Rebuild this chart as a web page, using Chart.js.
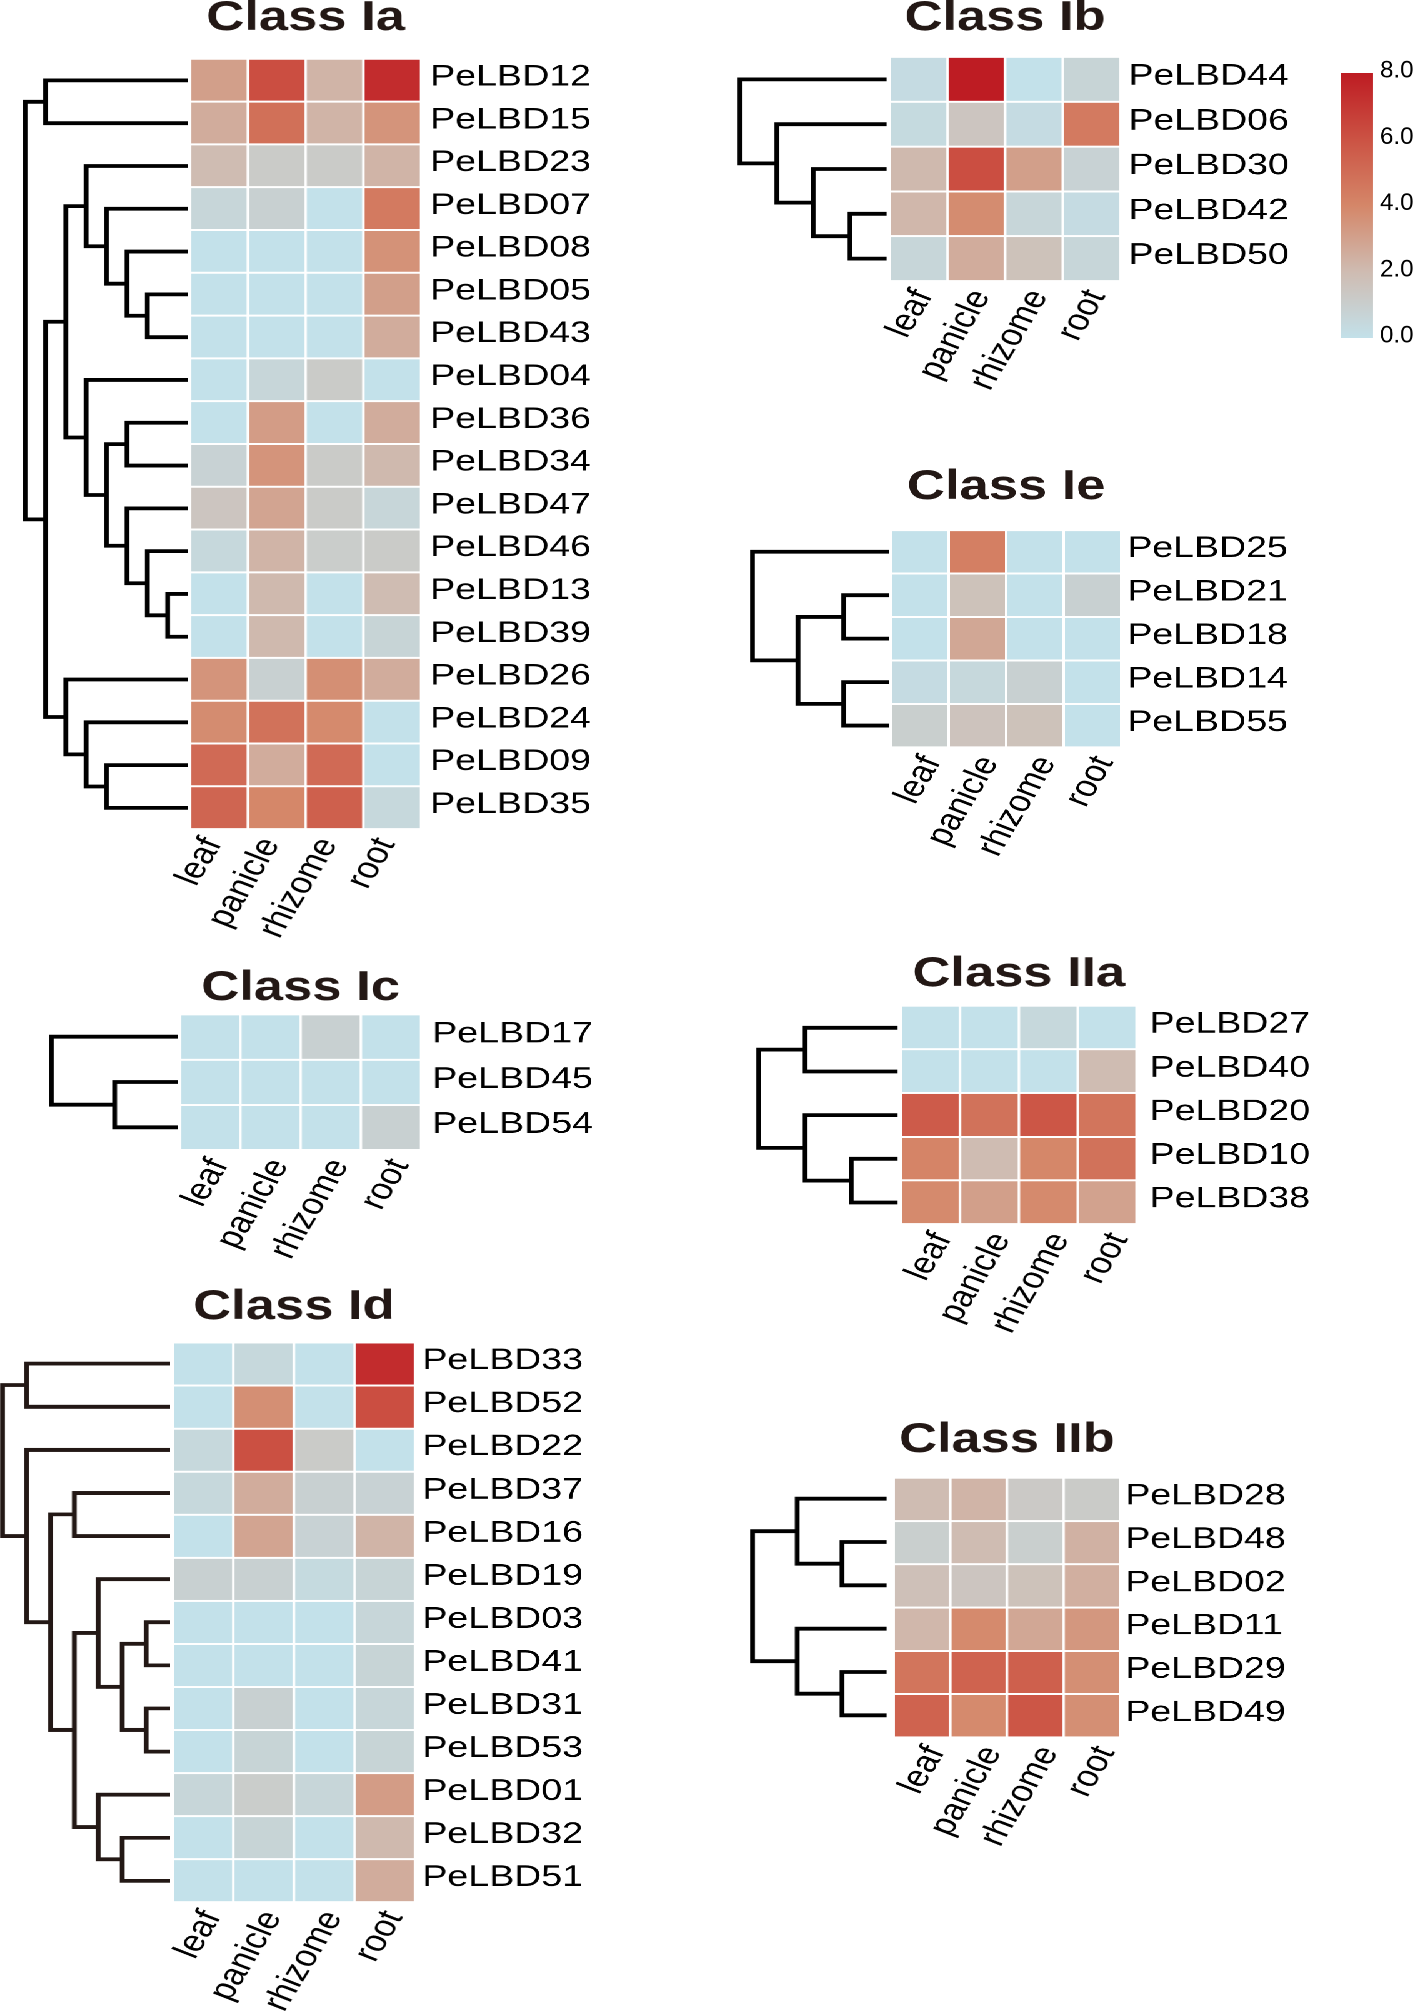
<!DOCTYPE html>
<html>
<head>
<meta charset="utf-8">
<script src="https://cdn.jsdelivr.net/npm/chart.js@4.4.1/dist/chart.umd.min.js"></script>
<style>
  html, body { margin: 0; padding: 0; background: #fff; overflow: hidden; }
  #page { position: relative; width: 1418px; height: 2011px; }
  /* the original figure is drawn a little wide, so the panels are stretched sideways */
  #stretch { position: absolute; left: 0; top: 0; width: 1135px; height: 2011px;
             transform: scaleX(1.25); transform-origin: 0 0; }
  .box { position: absolute; }
</style>
</head>
<body>
<div id="page"><div id="stretch"></div></div>
<script>
// ---- data ----
const tissues = ["leaf", "panicle", "rhizome", "root"];
const colorTicks = [0, 2, 4, 6, 8];

const genesIa = ["PeLBD12", "PeLBD15", "PeLBD23", "PeLBD07", "PeLBD08", "PeLBD05", "PeLBD43", "PeLBD04", "PeLBD36",
  "PeLBD34", "PeLBD47", "PeLBD46", "PeLBD13", "PeLBD39", "PeLBD26", "PeLBD24", "PeLBD09", "PeLBD35"];
const valuesIa = [
  [3.1, 6.2, 2.3, 7.4], [2.6, 4.9, 2.3, 3.5], [2.0, 1.2, 1.2, 2.3], [0.6, 0.9, 0.0, 4.5],
  [0.0, 0.0, 0.0, 3.6], [0.0, 0.0, 0.0, 3.1], [0.0, 0.0, 0.0, 2.6], [0.0, 0.6, 1.2, 0.0],
  [0.0, 3.2, 0.0, 2.6], [0.8, 3.5, 1.2, 2.1], [1.5, 2.9, 1.2, 0.6], [0.5, 2.3, 1.1, 1.2],
  [0.0, 2.1, 0.0, 2.0], [0.0, 2.1, 0.0, 0.7], [3.5, 0.9, 3.7, 2.6], [3.8, 4.8, 3.9, 0.0],
  [5.1, 2.6, 5.1, 0.0], [5.3, 4.0, 5.5, 0.5]
];
// tree nodes are [height, left, right]; leaves are gene names
const treeIa = [8, [7, "PeLBD12", "PeLBD15"],
  [7,
    [6,
      [5, "PeLBD23", [4, "PeLBD07", [3, "PeLBD08", [2, "PeLBD05", "PeLBD43"]]]],
      [5, "PeLBD04", [4, [3, "PeLBD36", "PeLBD34"], [3, "PeLBD47", [2, "PeLBD46", [1, "PeLBD13", "PeLBD39"]]]]]],
    [6, "PeLBD26", [5, "PeLBD24", [4, "PeLBD09", "PeLBD35"]]]]];

const genesIb = ["PeLBD44", "PeLBD06", "PeLBD30", "PeLBD42", "PeLBD50"];
const valuesIb = [
  [0.3, 8.0, 0.0, 0.7], [0.4, 1.5, 0.3, 4.5], [2.1, 6.2, 3.1, 0.8], [2.2, 3.8, 0.6, 0.3], [0.6, 2.6, 1.7, 0.6]
];
const treeIb = [4, "PeLBD44", [3, "PeLBD06", [2, "PeLBD30", [1, "PeLBD42", "PeLBD50"]]]];

const genesIe = ["PeLBD25", "PeLBD21", "PeLBD18", "PeLBD14", "PeLBD55"];
const valuesIe = [
  [0.0, 4.3, 0.0, 0.0], [0.0, 1.7, 0.0, 0.9], [0.0, 2.8, 0.0, 0.0], [0.3, 0.5, 0.9, 0.0], [1.0, 1.6, 1.7, 0.0]
];
const treeIe = [3, "PeLBD25", [2, [1, "PeLBD21", "PeLBD18"], [1, "PeLBD14", "PeLBD55"]]];

const genesIc = ["PeLBD17", "PeLBD45", "PeLBD54"];
const valuesIc = [[0.0, 0.0, 0.9, 0.0], [0.0, 0.0, 0.0, 0.0], [0.0, 0.0, 0.0, 0.9]];
const treeIc = [2, "PeLBD17", [1, "PeLBD45", "PeLBD54"]];

const genesIIa = ["PeLBD27", "PeLBD40", "PeLBD20", "PeLBD10", "PeLBD38"];
const valuesIIa = [
  [0.0, 0.0, 0.5, 0.0], [0.0, 0.0, 0.0, 2.0], [5.7, 4.8, 5.9, 4.7], [4.1, 2.0, 4.0, 4.8], [3.9, 3.1, 3.9, 3.0]
];
const treeIIa = [3, [2, "PeLBD27", "PeLBD40"], [2, "PeLBD20", [1, "PeLBD10", "PeLBD38"]]];

const genesId = ["PeLBD33", "PeLBD52", "PeLBD22", "PeLBD37", "PeLBD16", "PeLBD19", "PeLBD03", "PeLBD41", "PeLBD31",
  "PeLBD53", "PeLBD01", "PeLBD32", "PeLBD51"];
const valuesId = [
  [0.0, 0.5, 0.0, 7.4], [0.0, 3.7, 0.0, 6.2], [0.5, 6.1, 1.2, 0.0], [0.5, 2.6, 0.9, 0.8],
  [0.0, 2.9, 0.8, 2.3], [0.9, 0.9, 0.4, 0.7], [0.0, 0.0, 0.0, 0.6], [0.0, 0.0, 0.0, 0.7],
  [0.0, 0.9, 0.0, 0.6], [0.0, 0.7, 0.0, 0.7], [0.6, 1.1, 0.6, 3.2], [0.0, 0.7, 0.0, 2.1],
  [0.0, 0.0, 0.0, 2.6]
];
const treeId = [7, [6, "PeLBD33", "PeLBD52"],
  [6, "PeLBD22",
    [5, [4, "PeLBD37", "PeLBD16"],
      [4,
        [3, "PeLBD19", [2, [1, "PeLBD03", "PeLBD41"], [1, "PeLBD31", "PeLBD53"]]],
        [3, "PeLBD01", [2, "PeLBD32", "PeLBD51"]]]]]];

const genesIIb = ["PeLBD28", "PeLBD48", "PeLBD02", "PeLBD11", "PeLBD29", "PeLBD49"];
const valuesIIb = [
  [2.0, 2.3, 1.3, 1.2], [1.0, 2.0, 1.0, 2.4], [1.8, 1.5, 1.7, 2.5],
  [2.2, 3.9, 2.8, 3.4], [4.7, 5.4, 5.5, 3.7], [5.4, 3.9, 5.9, 3.7]
];
const treeIIb = [3, [2, "PeLBD28", [1, "PeLBD48", "PeLBD02"]], [2, "PeLBD11", [1, "PeLBD29", "PeLBD49"]]];

// ---- styles / layout ----
const STRETCH = 1.25;
const stopValues = [0, 2, 4, 6, 8];
const stopColors = [[195, 225, 234], [207, 188, 178], [213, 135, 105], [204, 83, 68], [190, 28, 35]];

// heat: [left, top, right, bottom] of the cell block on the page
let panels = [
  { title: "Class Ia", genes: genesIa, values: valuesIa, tree: treeIa, heat: [190.2, 59, 420.9, 829.3],
    titleBase: 33, tip: 188, step: 20.3, shift: -6, gap: 11, line: "#000" },
  { title: "Class Ib", genes: genesIb, values: valuesIb, tree: treeIb, heat: [889.6, 56.7, 1120.4, 280.7],
    titleBase: 32.7, tip: 886, step: 36.5, shift: 5, gap: 10, line: "#000" },
  { title: "Class Ie", genes: genesIe, values: valuesIe, tree: treeIe, heat: [891.7, 530, 1121.7, 747.3],
    titleBase: 501.7, tip: 889, step: 45.7, shift: 12, gap: 8, line: "#000" },
  { title: "Class Ic", genes: genesIc, values: valuesIc, tree: treeIc, heat: [180, 1014, 420.7, 1150],
    titleBase: 1002.3, tip: 177, step: 63, shift: 9, gap: 13, line: "#000" },
  { title: "Class IIa", genes: genesIIa, values: valuesIIa, tree: treeIIa, heat: [901, 1005.7, 1136.8, 1224],
    titleBase: 989, tip: 898, step: 46.5, shift: 12, gap: 15, line: "#000" },
  { title: "Class Id", genes: genesId, values: valuesId, tree: treeId, heat: [173, 1342.3, 415.2, 1901.7],
    titleBase: 1321.7, tip: 170, step: 23.85, shift: 9, gap: 9, line: "#231815" },
  { title: "Class IIb", genes: genesIIb, values: valuesIIb, tree: treeIIb, heat: [893.4, 1477.3, 1120.3, 1737.3],
    titleBase: 1454.3, tip: 886, step: 44.5, shift: 14, gap: 7, line: "#000" },
];

Chart.defaults.font.family = "'Liberation Sans', Arial, Helvetica, sans-serif";
Chart.defaults.color = "#000";

const page = document.getElementById("page");
const stretch = document.getElementById("stretch");

function mixColor(v) {
  let i = 0;
  while (i < stopValues.length - 2 && v > stopValues[i + 1]) i++;
  let t = (v - stopValues[i]) / (stopValues[i + 1] - stopValues[i]);
  t = Math.min(1, Math.max(0, t));
  let a = stopColors[i], b = stopColors[i + 1];
  let c = a.map((x, k) => Math.round(x + (b[k] - x) * t));
  return `rgb(${c[0]},${c[1]},${c[2]})`;
}

function makeCanvas(parent, left, top, width, height) {
  let div = document.createElement("div");
  div.className = "box";
  div.style.left = left + "px";
  div.style.top = top + "px";
  div.style.width = width + "px";
  div.style.height = height + "px";
  let canvas = document.createElement("canvas");
  div.appendChild(canvas);
  parent.appendChild(div);
  return canvas;
}

// walk the tree, collect one U-shaped line per merge
function layoutTree(node, genes, segs) {
  if (typeof node === "string") return { h: 0, y: genes.indexOf(node) };
  let [h, a, b] = node;
  let A = layoutTree(a, genes, segs);
  let B = layoutTree(b, genes, segs);
  segs.push([{ x: A.h, y: A.y }, { x: h, y: A.y }, { x: h, y: B.y }, { x: B.h, y: B.y }]);
  return { h: h, y: (A.y + B.y) / 2 };
}

function drawHeatmap(p) {
  let x0 = p.heat[0] / STRETCH;
  let w = (p.heat[2] - p.heat[0]) / STRETCH;
  let top = p.heat[1];
  let h = p.heat[3] - p.heat[1];
  let titleSize = 42;
  let titleGap = Math.max(0, top - p.titleBase - 10.6);
  let titleH = titleSize * 1.2 + titleGap;
  let padL = 40, labW = 160, axisH = 150;
  let canvas = makeCanvas(stretch, x0 - padL, top - titleH, padL + w + labW, titleH + h + axisH);

  new Chart(canvas, {
    type: "bar",
    data: {
      labels: p.genes,
      datasets: tissues.map((t, k) => ({
        label: t,
        data: p.genes.map(() => 1),
        backgroundColor: p.values.map((row) => mixColor(row[k])),
        borderColor: "#fff",
        borderWidth: 1,
        borderSkipped: false,
        inflateAmount: 0,
        barPercentage: 1,
        categoryPercentage: 1,
      })),
    },
    options: {
      indexAxis: "y",
      responsive: true,
      maintainAspectRatio: false,
      animation: false,
      devicePixelRatio: 2,
      layout: { autoPadding: false, padding: { left: padL, top: 0, right: 0, bottom: 0 } },
      plugins: {
        legend: { display: false },
        tooltip: { enabled: false },
        title: {
          display: true,
          text: p.title,
          fullSize: false,
          color: "#231815",
          font: { size: titleSize, weight: "bold" },
          padding: { top: 0, bottom: titleGap },
        },
      },
      scales: {
        x: {
          type: "linear",
          stacked: true,
          min: 0,
          max: tissues.length,
          grid: { display: false, drawTicks: false },
          border: { display: false },
          afterBuildTicks: (scale) => {
            scale.ticks = tissues.map((t, i) => ({ value: i + 0.5 }));
          },
          afterFit: (scale) => {
            scale.height = axisH;
            scale.paddingLeft = 0;
            scale.paddingRight = 0;
          },
          ticks: {
            autoSkip: false,
            minRotation: 64,
            maxRotation: 64,
            padding: 3,
            labelOffset: p.shift / STRETCH,
            font: { size: 30 },
            callback: (value, index) => tissues[index],
          },
        },
        y: {
          stacked: true,
          position: "right",
          grid: { display: false, drawTicks: false },
          border: { display: false },
          afterFit: (scale) => {
            scale.width = labW;
            scale.paddingTop = 0;
            scale.paddingBottom = 0;
          },
          ticks: { autoSkip: false, padding: p.gap / STRETCH - 1.5, labelOffset: -3, font: { size: 30 } },
        },
      },
    },
  });
}

function drawTree(p) {
  let segs = [];
  layoutTree(p.tree, p.genes, segs);
  let maxH = p.tree[0];
  let rootX = p.tip - maxH * p.step;
  let pad = 6;
  let canvas = makeCanvas(stretch, rootX / STRETCH - pad, p.heat[1] - pad,
    (p.tip - rootX) / STRETCH + 2 * pad, p.heat[3] - p.heat[1] + 2 * pad);

  new Chart(canvas, {
    type: "scatter",
    data: {
      datasets: segs.map((pts) => ({
        data: pts,
        showLine: true,
        borderColor: p.line,
        borderWidth: 3.8,
        pointRadius: 0,
        tension: 0,
        borderJoinStyle: "miter",
        borderCapStyle: "butt",
        clip: false,
      })),
    },
    options: {
      responsive: true,
      maintainAspectRatio: false,
      animation: false,
      devicePixelRatio: 2,
      layout: { padding: pad },
      plugins: { legend: { display: false }, tooltip: { enabled: false } },
      scales: {
        x: { type: "linear", display: false, reverse: true, min: 0, max: maxH },
        y: { type: "linear", display: false, reverse: true, min: -0.5, max: p.genes.length - 0.5 },
      },
    },
  });
}

function drawColorbar() {
  let area = [1341.3, 73.3, 1373, 338.3];
  let padV = 16, labW = 45;
  let canvas = makeCanvas(page, area[0], area[1] - padV, area[2] - area[0] + labW, area[3] - area[1] + 2 * padV);
  let lo = colorTicks[0], hi = colorTicks[colorTicks.length - 1];

  new Chart(canvas, {
    type: "bar",
    data: {
      labels: [""],
      datasets: [{
        data: [[lo, hi]],
        backgroundColor: (context) => {
          let chart = context.chart;
          if (!chart.chartArea) return null;
          let y = chart.scales.y;
          let g = chart.ctx.createLinearGradient(0, y.getPixelForValue(lo), 0, y.getPixelForValue(hi));
          stopValues.forEach((v) => g.addColorStop((v - lo) / (hi - lo), mixColor(v)));
          return g;
        },
        borderWidth: 0,
        inflateAmount: 0,
        barPercentage: 1,
        categoryPercentage: 1,
      }],
    },
    options: {
      responsive: true,
      maintainAspectRatio: false,
      animation: false,
      devicePixelRatio: 2,
      layout: { autoPadding: false, padding: { top: padV, bottom: padV, left: 0, right: 0 } },
      plugins: { legend: { display: false }, tooltip: { enabled: false } },
      scales: {
        x: { display: false },
        y: {
          position: "right",
          min: lo,
          max: hi,
          grid: { display: false, drawTicks: false },
          border: { display: false },
          afterBuildTicks: (scale) => {
            scale.ticks = colorTicks.map((v) => ({ value: v }));
          },
          afterFit: (scale) => {
            scale.width = labW;
            scale.paddingTop = 0;
            scale.paddingBottom = 0;
          },
          ticks: { padding: 7, labelOffset: -2, font: { size: 24 }, callback: (value) => value.toFixed(1) },
        },
      },
    },
  });
}

panels.forEach((p) => {
  drawHeatmap(p);
  drawTree(p);
});
drawColorbar();
</script>
</body>
</html>
